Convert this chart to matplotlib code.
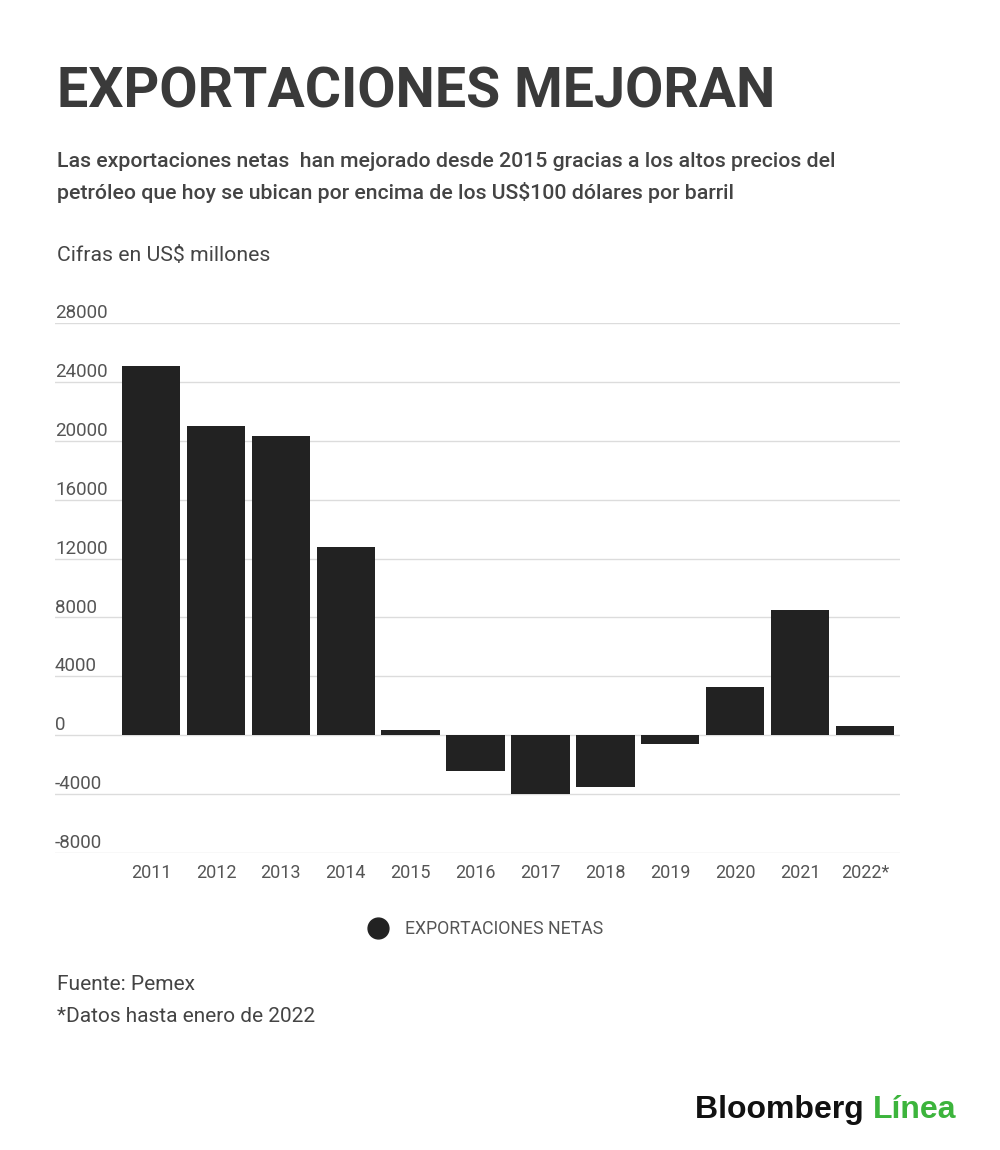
import matplotlib.pyplot as plt
from matplotlib.lines import Line2D
from matplotlib.transforms import blended_transform_factory

plt.rcParams['font.family'] = ['Roboto', 'DejaVu Sans']

years = ['2011', '2012', '2013', '2014', '2015', '2016', '2017', '2018',
         '2019', '2020', '2021', '2022*']
net_exports = [25100, 21000, 20300, 12800, 340, -2400, -4000, -3500,
               -620, 3250, 8500, 600]
y_ticks = [-8000, -4000, 0, 4000, 8000, 12000, 16000, 20000, 24000, 28000]

W, H = 1000, 1150


def fx(x):
    return x / W


def fy(y):
    return 1 - y / H


fig = plt.figure(figsize=(10, 11.5), dpi=100)
fig.patch.set_facecolor('white')

# axes spans from the first to the last gridline
ax = fig.add_axes([fx(55), fy(853), fx(900) - fx(55), fy(323) - fy(853)])
ax.bar(range(len(years)), net_exports, width=0.9, color='#222222', zorder=2)
ax.set_xlim(-1.48, 11.54)
ax.set_ylim(-8000, 28000)
for s in ax.spines.values():
    s.set_visible(False)
ax.set_yticks(y_ticks)
ax.yaxis.grid(True, color='#dcdcdc', linewidth=1)
ax.set_axisbelow(True)
ax.tick_params(axis='y', length=0, labelleft=False)
ax.set_xticks(range(len(years)), years)
ax.tick_params(axis='x', length=0, pad=8, labelsize=13, labelcolor='#555555')

trans = blended_transform_factory(ax.transAxes, ax.transData)
for t in y_ticks:
    ax.text(0, t + 330, str(t), transform=trans, ha='left', va='baseline',
            fontsize=13.5, color='#555555')

fig.text(fx(57), fy(108), 'EXPORTACIONES MEJORAN', fontsize=40,
         fontweight='bold', color='#3a3a3a', va='baseline')
fig.text(fx(57), fy(167),
         'Las exportaciones netas  han mejorado desde 2015 gracias a los altos precios del',
         fontsize=15.3, fontweight='medium', color='#444444', va='baseline')
fig.text(fx(57), fy(199),
         'petróleo que hoy se ubican por encima de los US$100 dólares por barril',
         fontsize=15.3, fontweight='medium', color='#444444', va='baseline')
fig.text(fx(57), fy(261), 'Cifras en US$ millones', fontsize=15.3,
         color='#444444', va='baseline')

handle = Line2D([], [], marker='o', ls='', color='#222222', markersize=15)
fig.legend(handles=[handle], labels=['EXPORTACIONES NETAS'], loc='center',
           bbox_to_anchor=(fx(482), fy(929)), frameon=False, fontsize=12.7,
           labelcolor='#555555', handletextpad=0.5)

fig.text(fx(57), fy(990), 'Fuente: Pemex', fontsize=15, color='#444444',
         va='baseline')
fig.text(fx(57), fy(1022), '*Datos hasta enero de 2022', fontsize=15,
         color='#444444', va='baseline')

logo = fig.text(fx(695), fy(1118), 'Bloomberg ', fontsize=23,
                fontweight='bold', color='#111111', va='baseline',
                family=['Liberation Sans', 'DejaVu Sans'])
fig.canvas.draw()
bb = logo.get_window_extent()
fig.text(bb.x1 / W, fy(1118), 'Línea', fontsize=23, fontweight='bold',
         color='#3cb43c', va='baseline',
         family=['Liberation Sans', 'DejaVu Sans'])

fig.savefig('out.png', dpi=100, facecolor='white')
